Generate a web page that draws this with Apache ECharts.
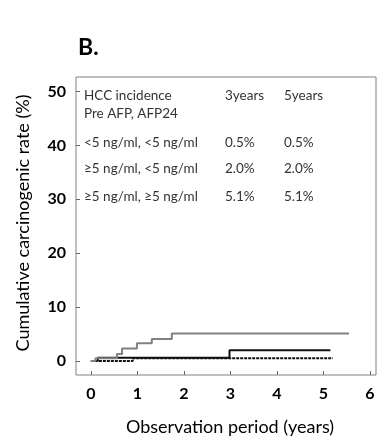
<!DOCTYPE html>
<html><head><meta charset="utf-8">
<script src="https://cdn.jsdelivr.net/npm/echarts@6/dist/echarts.min.js"></script>
<style>html,body{margin:0;padding:0;background:#fff}#c{width:392px;height:444px}</style>
</head><body><div id="c"></div>
<script>
// Data
const xTicks = [0, 1, 2, 3, 4, 5, 6];
const yTicks = [0, 10, 20, 30, 40, 50];
// Kaplan-Meier style step curves: [time (years), cumulative rate (%)]
const groupLowLow = [[0, 0], [0.9, 0.5], [5.2, 0.5]];            // <5, <5
const groupHighLow = [[0, 0], [0.15, 0.6], [2.98, 2.0], [5.15, 2.0]]; // >=5, <5
const groupHighHigh = [[0, 0], [0.1, 0.5], [0.56, 1.3], [0.67, 2.3], [0.99, 3.3], [1.31, 4.1], [1.74, 5.1], [5.55, 5.1]]; // >=5, >=5
const tableHeader = ['HCC incidence', '3years', '5years'];
const tableSub = 'Pre AFP, AFP24';
const tableRows = [
  ['<5 ng/ml, <5 ng/ml', '0.5%', '0.5%'],
  ['\u22655 ng/ml, <5 ng/ml', '2.0%', '2.0%'],
  ['\u22655 ng/ml, \u22655 ng/ml', '5.1%', '5.1%']
];
const xTitle = 'Observation period (years)';
const yTitle = 'Cumulative carcinogenic rate (%)';

const chart = echarts.init(document.getElementById('c'));
const FONT = 'Lato';
const txt = (x, y, s) => ({type: 'text', x: x, y: y, style: {text: s, font: '13.5px ' + FONT, fill: '#333', textVerticalAlign: 'middle'}});
const graphics = [
  txt(84, 96, tableHeader[0]), txt(225, 96, tableHeader[1]), txt(284, 96, tableHeader[2]),
  txt(84, 114, tableSub),
  {type: 'text', x: 230, y: 427, style: {text: xTitle, font: '18px ' + FONT, fill: '#000', textAlign: 'center', textVerticalAlign: 'middle'}},
  {type: 'text', x: 23, y: 223, rotation: Math.PI / 2, style: {text: yTitle, font: '18px ' + FONT, fill: '#000', textAlign: 'center', textVerticalAlign: 'middle'}}
];
const rowY = [143, 169, 197];
tableRows.forEach((r, i) => {
  graphics.push(txt(84, rowY[i], r[0]), txt(225, rowY[i], r[1]), txt(284, rowY[i], r[2]));
});

chart.setOption({
  animation: false,
  title: {text: 'B.', left: 73, top: 31, textStyle: {fontFamily: FONT, fontWeight: 'bold', fontSize: 23, color: '#000'}},
  grid: {left: 76, right: 16, top: 77, bottom: 69, show: true, borderColor: '#808080', borderWidth: 1},
  xAxis: {
    type: 'value', min: -0.32, max: 6.13,
    axisLine: {show: false, onZero: false},
    axisTick: {show: true, inside: true, length: 4, lineStyle: {color: '#666'}, customValues: xTicks},
    axisLabel: {customValues: xTicks, fontFamily: FONT, fontWeight: 'bold', fontSize: 16, color: '#000', margin: 11},
    splitLine: {show: false}
  },
  yAxis: {
    type: 'value', min: -2.6, max: 52.7,
    axisLine: {show: false, onZero: false},
    axisTick: {show: true, inside: true, length: 4, lineStyle: {color: '#666'}, customValues: yTicks},
    axisLabel: {customValues: yTicks, fontFamily: FONT, fontWeight: 'bold', fontSize: 16, color: '#000', margin: 10},
    splitLine: {show: false}
  },
  graphic: graphics,
  series: [
    {type: 'line', step: 'end', data: groupLowLow, showSymbol: false, lineStyle: {color: '#111', width: 2, type: [3, 1]}},
    {type: 'line', step: 'end', data: groupHighLow, showSymbol: false, lineStyle: {color: '#111', width: 2}},
    {type: 'line', step: 'end', data: groupHighHigh, showSymbol: false, lineStyle: {color: '#808080', width: 2}}
  ]
});
</script></body></html>
